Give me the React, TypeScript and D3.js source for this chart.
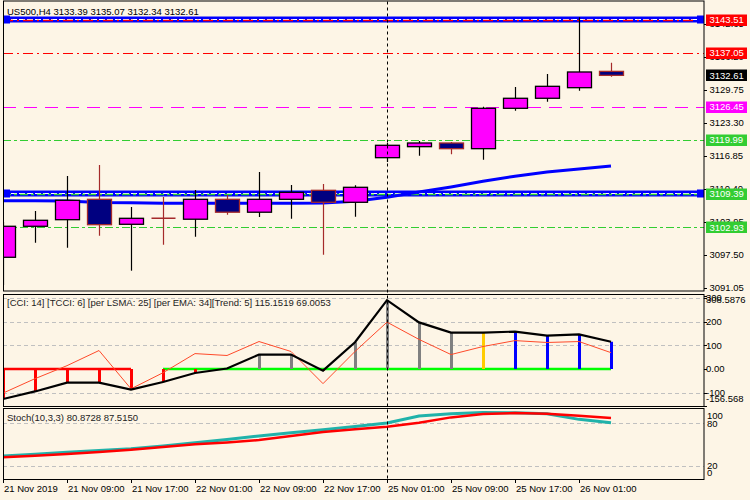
import React from 'react';
import * as d3 from 'd3';

const W = 750;
const H = 500;

// ---- data ----
const opens = [3097.05, 3103.11, 3104.40, 3108.38, 3103.50, 3104.67, 3104.49, 3108.38, 3105.86, 3108.38, 3110.14, 3107.80, 3116.52, 3118.67, 3119.39, 3118.28, 3126.17, 3128.13, 3130.20, 3133.39];
const highs = [3104.00, 3106.10, 3112.94, 3115.09, 3106.88, 3108.83, 3110.20, 3109.23, 3113.72, 3111.18, 3111.38, 3111.12, 3119.39, 3119.78, 3119.59, 3126.49, 3130.34, 3132.88, 3143.96, 3135.07];
const lows = [3091.63, 3099.90, 3098.92, 3101.27, 3094.43, 3099.51, 3101.08, 3105.38, 3104.92, 3104.59, 3097.56, 3104.98, 3115.68, 3116.91, 3117.18, 3116.13, 3125.70, 3127.46, 3129.61, 3132.34];
const closes = [3103.11, 3104.28, 3108.19, 3103.42, 3104.67, 3104.66, 3108.38, 3105.86, 3108.38, 3109.75, 3107.80, 3110.73, 3118.94, 3119.39, 3118.28, 3126.17, 3128.13, 3130.47, 3133.27, 3132.61];
const maValues = [3108.1, 3108.1, 3108.05, 3107.75, 3107.7, 3107.6, 3107.6, 3107.6, 3107.6, 3107.6, 3107.65, 3108.0, 3108.8, 3109.8, 3110.8, 3111.9, 3112.9, 3113.7, 3114.3, 3114.9];

const priceTicks = [3142.65, 3136.20, 3129.75, 3123.30, 3116.85, 3110.40, 3103.95, 3097.50, 3091.05];
const levelPrices = [3143.51, 3137.05, 3126.45, 3119.99, 3109.39, 3102.93];
const bidPrice = 3132.61;

const cciValues = [-127, -95, -58, -58, -87, -55, -17, 2, 61, 61, -7, 113, 291, 197, 154, 154, 158, 141, 146, 115.1519];
const tcciValues = [-102, -41, 14, 78, -84, -16, 65, 57, 116, 74, -62, 74, 198, 125, 61, 95, 120, 112, 116, 69.0053];
const trendState = ['down', 'down', 'down', 'down', 'down', 'down', 'down', 'flat', 'flat', 'flat', 'down', 'flat', 'flat', 'flat', 'flat', 'turn', 'up', 'up', 'up', 'up'];
const zeroState = ['down', 'down', 'down', 'down', 'down', 'up', 'up', 'up', 'up', 'up', 'up', 'up', 'up', 'up', 'up', 'up', 'up', 'up', 'up', 'up'];
const cciGrid = [300, 200, 100, -100];
const cciLabels = ['300', '308.5876', '200', '100', '0.00', '-100', '-156.568'];
const cciLabelVals = [300, 308.5876, 200, 100, 0, -100, -156.568];

const stochMain = [33.7, 36.2, 38.9, 41.5, 44.0, 48.0, 52.5, 57.0, 62.0, 66.5, 70.9, 75.5, 80.4, 90.3, 93.5, 95.5, 94.9, 93.5, 85.6, 80.8728];
const stochSignal = [31.8, 34.0, 36.5, 39.5, 42.6, 46.5, 50.2, 53.0, 56.3, 62.0, 67.6, 71.5, 75.1, 80.8, 88.4, 93.1, 94.5, 93.5, 90.7, 87.515];
const stochGrid = [80, 20];
const stochLabels = ['100', '80', '20', '0'];

const timeIdx = [0, 2, 4, 6, 8, 10, 12, 14, 16, 18];
const timeLabels = ['21 Nov 2019', '21 Nov 09:00', '21 Nov 17:00', '22 Nov 01:00', '22 Nov 09:00', '22 Nov 17:00', '25 Nov 01:00', '25 Nov 09:00', '25 Nov 17:00', '26 Nov 01:00'];
const separatorIdx = 12;

// ---- styles ----
const BG = '#FDF5E6';
const FONT = "'Liberation Sans', Arial, sans-serif";
const FS = 9.5;
const BULL = '#FF00FF';
const BEAR = '#000080';
const BEAR_EDGE = '#A52A2A';
const levelColors = ['#FF0000', '#FF0000', '#FF00FF', '#32CD32', '#32CD32', '#32CD32'];
const levelDash = ['10,4,2,4', '10,4,2,4', '13,8', '8,3,3,3', '8,3,3,3', '8,3,3,3'];
const levelBand = [true, false, false, false, true, false];
const trendColor: Record<string, string> = { down: '#FF0000', flat: '#808080', turn: '#FFCC00', up: '#0000FF' };
const zeroColor: Record<string, string> = { down: '#FF0000', up: '#00FF00' };

const L = 3, R = 704;
const mainTop = 1.5, mainBot = 291;
const cciTop = 294, cciBot = 406;
const stTop = 408, stBot = 479;

export default function App() {
  const n = opens.length;
  const x = d3.scaleLinear().domain([0, n - 1]).range([3, 611]);
  const yP = d3.scaleLinear().domain([3090.46, 3146.95]).range([291, 2]);
  const yC = d3.scaleLinear().domain([-156.568, 308.5876]).range([406, 296]);
  const yS = d3.scaleLinear().domain([0, 100]).range([479.8, 409.2]);
  const idx = d3.range(n);

  const maLine = d3.line<number>().x((i) => x(i)).y((i) => yP(maValues[i]))(idx) || '';
  const cciLine = d3.line<number>().x((i) => x(i)).y((i) => yC(cciValues[i]))(idx) || '';
  const tcciLine = d3.line<number>().x((i) => x(i)).y((i) => yC(tcciValues[i]))(idx) || '';
  const stMainLine = d3.line<number>().x((i) => x(i)).y((i) => yS(stochMain[i]))(idx) || '';
  const stSigLine = d3.line<number>().x((i) => x(i)).y((i) => yS(stochSignal[i]))(idx) || '';

  const bw = 12;
  const sepX = Math.round(x(separatorIdx)) + 0.5;

  // zero line segments grouped by state
  const zeroSegs: { s: string; a: number; b: number }[] = [];
  idx.forEach((i) => {
    const last = zeroSegs[zeroSegs.length - 1];
    if (last && last.s === zeroState[i]) last.b = i;
    else zeroSegs.push({ s: zeroState[i], a: i, b: i });
  });

  const labelBox = (price: number, fill: string, key: string) => (
    <g key={key}>
      <rect x={706} y={Math.round(yP(price)) - 5.5} width={41} height={11.5} fill={fill} />
      <text x={709.5} y={yP(price)} dy="0.35em" fill="#fff" fontSize={FS} fontFamily={FONT}>{price.toFixed(2)}</text>
    </g>
  );

  return (
    <svg width={W} height={H} style={{ position: 'absolute', left: 0, top: 0, display: 'block' }}>
      <defs>
        <clipPath id="mainClip"><rect x={L} y={mainTop} width={R - L} height={mainBot - mainTop} /></clipPath>
        <clipPath id="cciClip"><rect x={L} y={cciTop} width={R - L} height={cciBot - cciTop} /></clipPath>
        <clipPath id="stClip"><rect x={L} y={stTop} width={R - L} height={stBot - stTop} /></clipPath>
      </defs>
      <rect x={0} y={0} width={W} height={H} fill={BG} />

      {/* ===== main panel ===== */}
      <g clipPath="url(#mainClip)">
        {levelPrices.map((p, k) => {
          const y = Math.round(yP(p)) + 0.5;
          return (
            <g key={'lv' + k}>
              {levelBand[k] && (
                <g>
                  <line x1={L} x2={R} y1={y - 1} y2={y - 1} stroke="#0000FF" strokeWidth={6} />
                  <line x1={L} x2={R} y1={y - 1} y2={y - 1} stroke="#fff" strokeWidth={1} strokeDasharray="6,2" />
                </g>
              )}
              <line x1={L} x2={R} y1={y} y2={y} stroke={levelColors[k]} strokeWidth={levelBand[k] ? 1.5 : 1} strokeDasharray={levelDash[k]} />
              {levelBand[k] && (
                <g>
                  <rect x={L} y={y - 5} width={7} height={8} fill="#0000FF" />
                  <rect x={R - 7} y={y - 5} width={7} height={8} fill="#0000FF" />
                </g>
              )}
            </g>
          );
        })}
        <path d={maLine} fill="none" stroke="#0000FF" strokeWidth={3} />
        {idx.map((i) => {
          const o = opens[i], c = closes[i];
          const bull = c > o;
          const cx = Math.round(x(i)) + 0.5;
          const top = yP(Math.max(o, c));
          const bot = yP(Math.min(o, c));
          const edge = bull ? '#000' : BEAR_EDGE;
          const doji = Math.abs(bot - top) < 1;
          return (
            <g key={'c' + i}>
              <line x1={cx} x2={cx} y1={yP(highs[i])} y2={yP(lows[i])} stroke={edge} strokeWidth={1.2} />
              {doji ? (
                <line x1={cx - bw} x2={cx + bw} y1={top} y2={top} stroke={edge} strokeWidth={1.5} />
              ) : (
                <rect x={cx - bw} y={top} width={bw * 2} height={bot - top} fill={bull ? BULL : BEAR} stroke={edge} strokeWidth={1.3} />
              )}
            </g>
          );
        })}
      </g>
      <text x={7} y={14.5} fontSize={FS} fontFamily={FONT} fill="#000">US500,H4  3133.39 3135.07 3132.34 3132.61</text>

      {/* main axis */}
      {priceTicks.map((p, k) => (
        <g key={'pt' + k}>
          <line x1={R} x2={R + 3} y1={Math.round(yP(p)) + 0.5} y2={Math.round(yP(p)) + 0.5} stroke="#000" />
          <text x={709.5} y={yP(p)} dy="0.35em" fontSize={FS} fontFamily={FONT} fill="#000">{p.toFixed(2)}</text>
        </g>
      ))}
      {levelPrices.map((p, k) => labelBox(p, levelColors[k], 'lb' + k))}
      {labelBox(bidPrice, '#000', 'bid')}

      {/* ===== CCI panel ===== */}
      <g clipPath="url(#cciClip)">
        {cciGrid.map((v) => (
          <line key={'cg' + v} x1={L} x2={R} y1={Math.round(yC(v)) + 0.5} y2={Math.round(yC(v)) + 0.5} stroke="#C0C0C0" strokeDasharray="4,3" />
        ))}
        {zeroSegs.map((s, k) => (
          <line key={'zs' + k} x1={x(s.a)} x2={x(s.b)} y1={yC(0)} y2={yC(0)} stroke={zeroColor[s.s]} strokeWidth={2.5} />
        ))}
        {idx.map((i) => (
          <line key={'h' + i} x1={Math.round(x(i)) + 0.5} x2={Math.round(x(i)) + 0.5} y1={yC(0)} y2={yC(cciValues[i])} stroke={trendColor[trendState[i]]} strokeWidth={3} />
        ))}
        <path d={tcciLine} fill="none" stroke="#FF4A2A" strokeWidth={1} />
        <path d={cciLine} fill="none" stroke="#000" strokeWidth={2.2} />
      </g>
      <text x={7} y={302.5} dy="0.35em" fontSize={FS} fontFamily={FONT} fill="#222">[CCI: 14] [TCCI: 6] [per LSMA: 25] [per EMA: 34][Trend: 5]  115.1519 69.0053</text>
      {cciLabels.map((t, k) => (
        <g key={'cl' + k}>
          <line x1={R} x2={R + 3} y1={Math.round(yC(cciLabelVals[k])) + 0.5} y2={Math.round(yC(cciLabelVals[k])) + 0.5} stroke="#000" />
          <text x={706} y={k === 1 ? 300 : k === 6 ? 399 : yC(cciLabelVals[k])} dy="0.35em" fontSize={FS} fontFamily={FONT} fill="#000">{t}</text>
        </g>
      ))}

      {/* ===== Stoch panel ===== */}
      <g clipPath="url(#stClip)">
        {stochGrid.map((v) => (
          <line key={'sg' + v} x1={L} x2={R} y1={Math.round(yS(v)) + 0.5} y2={Math.round(yS(v)) + 0.5} stroke="#C0C0C0" strokeDasharray="4,3" />
        ))}
        <path d={stMainLine} fill="none" stroke="#20B2AA" strokeWidth={3} />
        <path d={stSigLine} fill="none" stroke="#FF0000" strokeWidth={2.5} />
      </g>
      <text x={7} y={417.5} dy="0.35em" fontSize={FS} fontFamily={FONT} fill="#222">Stoch(10,3,3) 80.8728 87.5150</text>
      {stochLabels.map((t, k) => {
        const ly = [415.3, 423.7, 465.3, 472.3][k];
        return (
          <text key={'sl' + k} x={707} y={ly} dy="0.35em" fontSize={FS} fontFamily={FONT} fill="#000">{t}</text>
        );
      })}

      {/* separator */}
      <line x1={sepX} x2={sepX} y1={mainTop} y2={stBot} stroke="#000" strokeDasharray="3,3" />

      {/* panel borders */}
      <rect x={L + 0.5} y={mainTop - 0.5} width={R - L - 0.5} height={mainBot - mainTop + 0.5} fill="none" stroke="#000" />
      <rect x={L + 0.5} y={cciTop + 0.5} width={R - L - 0.5} height={cciBot - cciTop} fill="none" stroke="#000" />
      <rect x={L + 0.5} y={stTop + 0.5} width={R - L - 0.5} height={stBot - stTop} fill="none" stroke="#000" />

      {/* time axis */}
      {timeIdx.map((ti, k) => {
        const tx = Math.round(x(ti)) + 0.5;
        return (
          <g key={'ta' + k}>
            <line x1={tx} x2={tx} y1={stBot} y2={stBot + 4} stroke="#000" />
            <text x={tx + 0.5} y={491.5} fontSize={FS} fontFamily={FONT} fill="#000">{timeLabels[k]}</text>
          </g>
        );
      })}
    </svg>
  );
}
